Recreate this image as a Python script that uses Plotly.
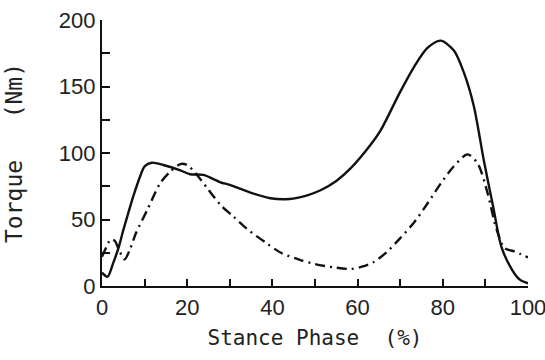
import plotly.graph_objects as go

# Solid curve (stance phase %, torque Nm)
solid_x = [0, 1.3, 2.6, 4, 5, 6, 7.3, 8.9, 10, 11.7, 14.4, 18.4, 20.7, 23.8, 27.8, 30, 35, 39.5, 44, 48,
           51.3, 55, 58.4, 63, 65.4, 70, 73.3, 76.4, 79.5, 82.6, 85, 87.3, 89.6, 91.8, 93.8, 96.3, 98, 100]
solid_y = [10, 7, 17, 30, 42, 53, 67, 82, 90, 92.7, 91, 87, 84, 83.5, 78, 76, 70, 66, 65.4, 68,
           72, 79, 88.6, 106, 117, 146, 165, 179, 184.5, 177, 160, 135, 95, 60, 29, 12, 5, 2]

# Dash-dot curve
dd_x = [0, 1, 2, 3, 4, 5.3, 6.5, 8, 10.6, 13.6, 16, 18.4, 20, 21.9, 24.7, 27.8, 30.9, 34, 38.7, 42,
        46.6, 50, 54.4, 58.4, 61, 63.8, 67, 70, 73.3, 76.4, 79.5, 82.6, 85.8, 88.2, 90.5, 92.5, 94.5,
        96.8, 100]
dd_y = [22, 29, 35, 34, 27, 20, 27, 40, 57, 77, 86, 91.7, 91, 85, 73.6, 61, 52, 43, 32, 25,
        19.5, 16.5, 14, 12.8, 14.5, 18, 26, 36, 48, 62, 77, 90, 99, 92, 70, 44, 28.5,
        26, 21.5]

x_ticks = [0, 20, 40, 60, 80, 100]
y_ticks = [0, 50, 100, 150, 200]

ink = "#111111"
NB = "\u00a0"

fig = go.Figure()
fig.add_trace(go.Scatter(x=solid_x, y=solid_y, mode="lines",
                         line=dict(color=ink, width=2.4, shape="spline", smoothing=0.8),
                         showlegend=False, hoverinfo="skip"))
fig.add_trace(go.Scatter(x=dd_x, y=dd_y, mode="lines",
                         line=dict(color=ink, width=2.4, shape="spline", smoothing=0.8,
                                   dash="10px,5px,2px,5px"),
                         showlegend=False, hoverinfo="skip"))

tick_font = dict(family="Liberation Sans, Arial, sans-serif", size=22, color="#222")
title_font = dict(family="DejaVu Sans Mono, monospace", size=21, color="#222")

fig.update_layout(
    width=545, height=360,
    margin=dict(l=102, r=17, t=20, b=74),
    paper_bgcolor="white", plot_bgcolor="white",
    xaxis=dict(range=[0, 100], tickvals=x_ticks, ticktext=[str(v) for v in x_ticks],
               ticks="inside", ticklen=7, tickwidth=2, tickcolor=ink,
               minor=dict(dtick=10, tick0=0, ticks="inside", ticklen=7, tickwidth=2, tickcolor=ink),
               showline=True, linewidth=2.2, linecolor=ink, showgrid=False, zeroline=False,
               tickfont=tick_font, automargin=False, ticklabeloverflow="allow",
               title=dict(text="Stance Phase" + NB * 2 + "(%)", font=title_font, standoff=12)),
    yaxis=dict(range=[0, 200], tickvals=y_ticks, ticktext=[str(v) for v in y_ticks],
               ticks="inside", ticklen=8, tickwidth=2, tickcolor=ink,
               minor=dict(dtick=25, tick0=0, ticks="inside", ticklen=8, tickwidth=2, tickcolor=ink),
               showline=True, linewidth=2.2, linecolor=ink, showgrid=False, zeroline=False,
               tickfont=tick_font, automargin=False, ticklabeloverflow="allow",
               title=dict(text="Torque" + NB * 3 + "(Nm)",
                          font=dict(family="DejaVu Sans Mono, monospace", size=23, color="#222"),
                          standoff=30)),
)

fig.write_html("out.html", config={"displayModeBar": False, "staticPlot": True},
               post_script="document.body.style.margin='0';document.body.style.overflow='hidden';")
